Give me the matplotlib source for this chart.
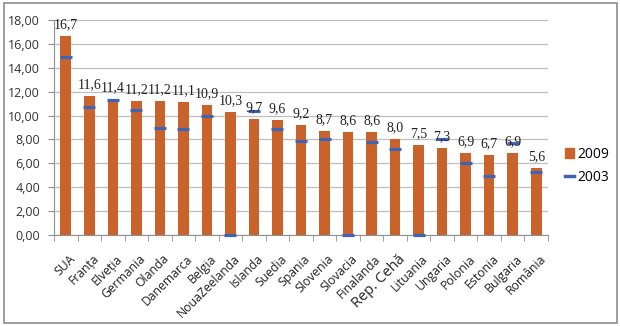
import matplotlib
matplotlib.use("Agg")
import matplotlib.pyplot as plt
from matplotlib.patches import Rectangle
from matplotlib.lines import Line2D
import numpy as np

countries = ["SUA", "Franța", "Elveția", "Germania", "Olanda", "Danemarca", "Belgia",
             "NouaZeelanda", "Islanda", "Suedia", "Spania", "Slovenia", "Slovacia",
             "Finalanda", "Rep. Cehă", "Lituania", "Ungaria", "Polonia", "Estonia",
             "Bulgaria", "România"]
v2009 = [16.7, 11.6, 11.4, 11.2, 11.2, 11.1, 10.9, 10.3, 9.7, 9.6, 9.2, 8.7, 8.6,
         8.6, 8.0, 7.5, 7.3, 6.9, 6.7, 6.9, 5.6]
v2003 = [14.9, 10.7, 11.3, 10.5, 9.0, 8.9, 10.0, 0.0, 10.4, 8.9, 7.9, 8.0, 0.0,
         7.8, 7.2, 0.0, 8.0, 6.0, 4.9, 7.7, 5.3]
yticks = [0, 2, 4, 6, 8, 10, 12, 14, 16, 18]

orange = "#C9622B"
blue = "#4064B4"
label_font = ["Open Sans", "DejaVu Sans"]

fig = plt.figure(figsize=(6.2, 3.26), dpi=100)
ax = fig.add_axes([54/620, 1-235/326, (548-54)/620, (235-20)/326])

x = np.arange(len(countries))
ax.bar(x, v2009, width=0.45, color=orange, zorder=2, label="2009")
ax.scatter(x, v2003, marker="_", s=75, linewidths=2.3, color=blue, zorder=3, label="2003",
           clip_on=False)

for xi, v in zip(x, v2009):
    ax.text(xi, v + 0.4, f"{v:.1f}".replace(".", ","), ha="center", va="bottom",
            fontsize=10, family=["Liberation Serif", "DejaVu Serif"], color="#222222")

ax.set_xlim(-0.5, len(countries) - 0.5)
ax.set_ylim(0, 18)
ax.set_yticks(yticks)
ax.set_yticklabels([f"{t:.2f}".replace(".", ",") for t in yticks], family=label_font,
                   fontsize=9, color="#333333")
ax.yaxis.grid(True, color="#BFBFBF", linewidth=0.9, zorder=0)
ax.set_axisbelow(True)

ax.set_xticks(x)
ax.set_xticklabels([])
ax.set_xticks(np.arange(-0.5, len(countries)), minor=True)
ax.tick_params(axis="x", which="major", length=0)
ax.tick_params(axis="x", which="minor", length=4, color="#909090", direction="out")
ax.tick_params(axis="y", length=4, color="#909090", pad=6)

for xi, name in zip(x, countries):
    fs = 10.5 if name == "Rep. Cehă" else 8.8
    ax.text(xi + 0.12, -1.45, name, rotation=45, ha="right", va="top", rotation_mode="anchor",
            fontsize=fs, family=label_font, color="#222222")

for s in ["top", "right"]:
    ax.spines[s].set_visible(False)
ax.spines["left"].set_color("#909090")
ax.spines["bottom"].set_color("#909090")

handles = [Rectangle((0, 0), 1, 1, color=orange),
           Line2D([], [], color=blue, linewidth=2.5)]
fig.legend(handles, ["2009", "2003"], loc="upper left", bbox_to_anchor=(552/620, 1-134/326),
           frameon=False, handlelength=0.7, handleheight=0.7, handletextpad=0.2,
           labelspacing=0.6, prop={"family": label_font, "size": 10})

fig.patches.append(Rectangle((4/620, 3/326), 613/620, 320/326, transform=fig.transFigure,
                             fill=False, edgecolor="#8C8C8C", linewidth=1.2))

fig.savefig("out.png", dpi=100)
